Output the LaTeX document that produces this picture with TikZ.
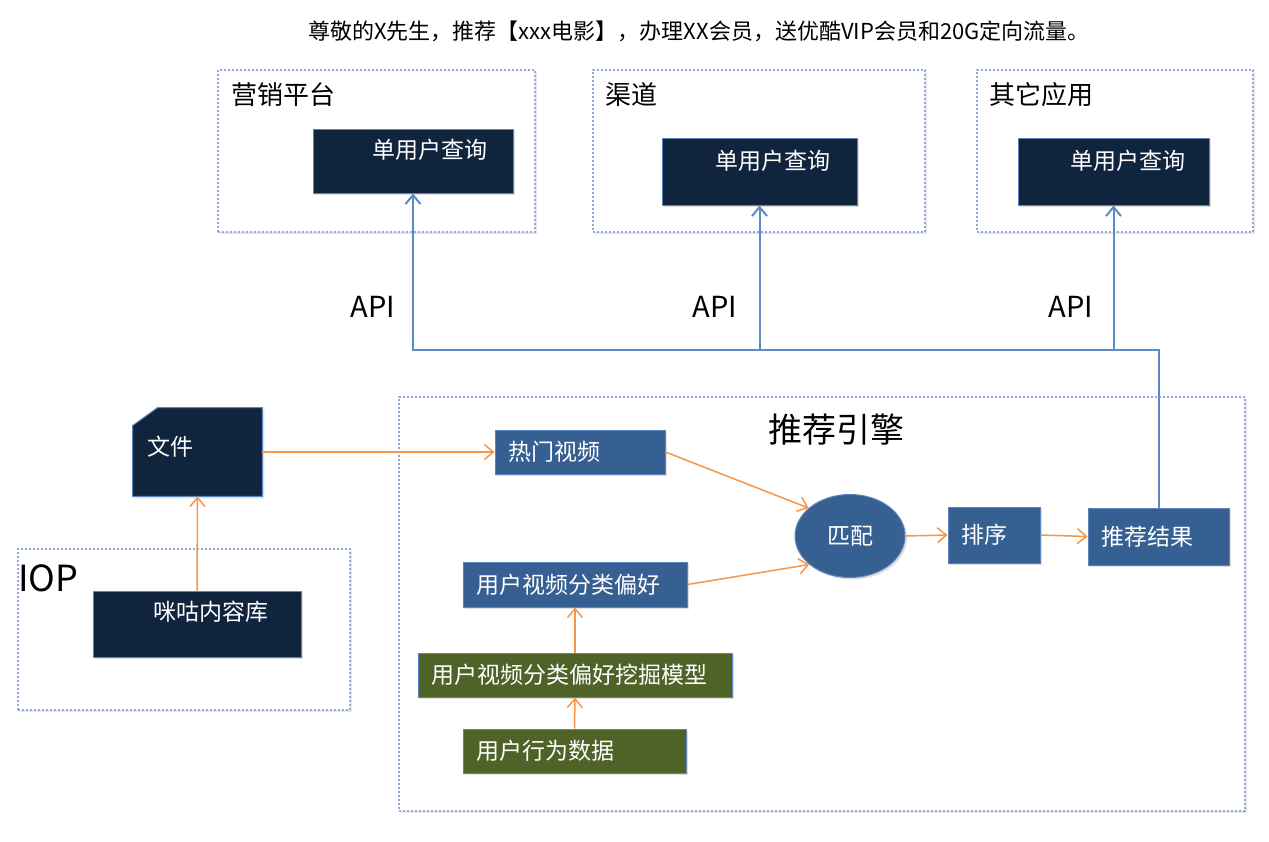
\documentclass[tikz,border=0pt]{standalone}
\usepackage{fontspec}
\setmainfont{Noto Sans CJK SC}
\usepackage{tikz}
\usetikzlibrary{shapes.geometric, arrows.meta, shadows, calc}
\definecolor{navy}{HTML}{10243E}
\definecolor{boxblue}{HTML}{376092}
\definecolor{olive}{HTML}{4F6228}
\definecolor{edgeblue}{HTML}{5B85BD}
\definecolor{panelblue}{HTML}{8EAADB}
\definecolor{linkorange}{HTML}{F79646}
\definecolor{apiblue}{HTML}{5B8AC6}
\tikzstyle{panel} = [rectangle, 
draw=panelblue, 
densely dotted, 
line width=1pt, 
fill=white, 
drop shadow={shadow xshift=1pt, shadow yshift=-1pt, opacity=0.2}]
\tikzstyle{paneltitle} = [anchor=west, inner sep=0, font=\fontsize{13}{15}\selectfont]
\tikzstyle{navybox} = [rectangle, 
draw=edgeblue, 
line width=0.5pt, 
fill=navy, 
drop shadow={shadow xshift=1pt, shadow yshift=-1pt, opacity=0.25}]
\tikzstyle{boxtext} = [text=white, inner sep=0, font=\fontsize{11.5}{13}\selectfont]
\tikzstyle{bluebox} = [rectangle, 
draw=edgeblue, 
line width=0.5pt, 
fill=boxblue, 
text=white, 
align=left, 
inner xsep=6.5pt, 
inner ysep=0pt, 
font=\fontsize{11.5}{13}\selectfont, 
drop shadow={shadow xshift=1pt, shadow yshift=-1pt, opacity=0.25}]
\tikzstyle{greenbox} = [bluebox, fill=olive]
\tikzstyle{apitext} = [inner sep=0, font=\fontsize{14.5}{16}\selectfont]
\tikzstyle{arrow} = [draw=linkorange, line width=0.75pt, -{Straight Barb[length=4.5pt, width=7.5pt]}]
\tikzstyle{apiline} = [draw=apiblue, line width=1pt, -{Straight Barb[length=4.5pt, width=7.5pt]}]
\begin{document}
\begin{tikzpicture}[x=0.5pt, y=-0.5pt]
        \useasboundingbox (0,0) rectangle (1269,841);
        \node (headline) [font=\fontsize{11}{13}\selectfont] at (699,31) {尊敬的X先生，推荐【xxx电影】，办理XX会员，送优酷VIP会员和20G定向流量。};

        % callers
        \node (mkt) [panel, minimum width=158.5pt, minimum height=81pt] at (376.5,151) {};
        \node (mkttitle) [paneltitle] at (231,95) {营销平台};
        \node (q1) [navybox, minimum width=100pt, minimum height=32pt] at (413,161) {};
        \node (q1text) [boxtext] at (430,150) {单用户查询};

        \node (chn) [panel, minimum width=166pt, minimum height=81pt] at (759,151) {};
        \node (chntitle) [paneltitle] at (605,95) {渠道};
        \node (q2) [navybox, minimum width=97.5pt, minimum height=33.5pt] at (759.5,171.5) {};
        \node (q2text) [boxtext] at (773,161) {单用户查询};

        \node (oth) [panel, minimum width=138pt, minimum height=81pt] at (1115,151) {};
        \node (othtitle) [paneltitle] at (989,95) {其它应用};
        \node (q3) [navybox, minimum width=95.5pt, minimum height=33.5pt] at (1113.5,171.5) {};
        \node (q3text) [boxtext] at (1128,161) {单用户查询};

        \node (api1) [apitext] at (373,307) {API};
        \node (api2) [apitext] at (715,307) {API};
        \node (api3) [apitext] at (1071,307) {API};

        % content source
        \node (iop) [panel, minimum width=166pt, minimum height=80.5pt] at (184,629.5) {};
        \node (ioptitle) [anchor=west, inner sep=0, font=\fontsize{18}{20}\selectfont] at (18,578) {IOP};
        \node (mig) [navybox, minimum width=104pt, minimum height=33pt] at (197,624) {};
        \node (migtext) [boxtext] at (211,612) {咪咕内容库};

        \node (file) [minimum width=64.5pt, minimum height=44pt, inner sep=0] at (197.5,452) {};
        \path [fill=navy, draw=edgeblue, line width=0.5pt, drop shadow={shadow xshift=1pt, shadow yshift=-1pt, opacity=0.25}]
          (file.south west) -- ($(file.north west)+(0,18)$) -- ($(file.north west)+(25,0)$)
          -- (file.north east) -- (file.south east) -- cycle;
        \node (filetext) [boxtext] at (170,447) {文件};

        % engine
        \node (eng) [panel, minimum width=423pt, minimum height=207pt] at (822,604) {};
        \node (engtitle) [font=\fontsize{17}{20}\selectfont] at (836,430) {推荐引擎};

        \node (hot) [bluebox, text width=72pt, minimum height=22pt] at (580,452) {热门视频};
        \node (match) [ellipse, fill=boxblue, draw=edgeblue, line width=0.5pt, text=white, inner sep=0,
          minimum width=55pt, minimum height=41.5pt, font=\fontsize{11.5}{13}\selectfont,
          drop shadow={shadow xshift=1pt, shadow yshift=-1pt, opacity=0.25}] at (850,536) {匹配};
        \node (sort) [bluebox, text width=33pt, minimum height=28pt] at (994,535) {排序};
        \node (rec) [bluebox, text width=57.5pt, minimum height=28.5pt] at (1158.5,536.5) {推荐结果};
        \node (pref) [bluebox, text width=99pt, minimum height=22.5pt] at (575,584.5) {用户视频分类偏好};
        \node (mine) [greenbox, text width=144pt, minimum height=22pt] at (575,675) {用户视频分类偏好挖掘模型};
        \node (beh) [greenbox, text width=98.5pt, minimum height=22pt] at (574.5,751) {用户行为数据};

        \draw [arrow] (mig.north) -- (file.south);
        \draw [arrow] (file.east) -- (hot.west);
        \draw [arrow] (hot.east) -- (match.146);
        \draw [arrow] (pref.east) -- (match.215);
        \draw [arrow] (match.east) -- (sort.west);
        \draw [arrow] (sort.east) -- (rec.west);
        \draw [arrow] (mine.north) -- (pref.south);
        \draw [arrow] (beh.north) -- (mine.south);

        \coordinate (bus) at (0,350);
        \draw [apiline] (rec.north) |- (q1.south |- bus) -- (q1.south);
        \draw [apiline] (q2.south |- bus) -- (q2.south);
        \draw [apiline] (q3.south |- bus) -- (q3.south);
\end{tikzpicture}
\end{document}
